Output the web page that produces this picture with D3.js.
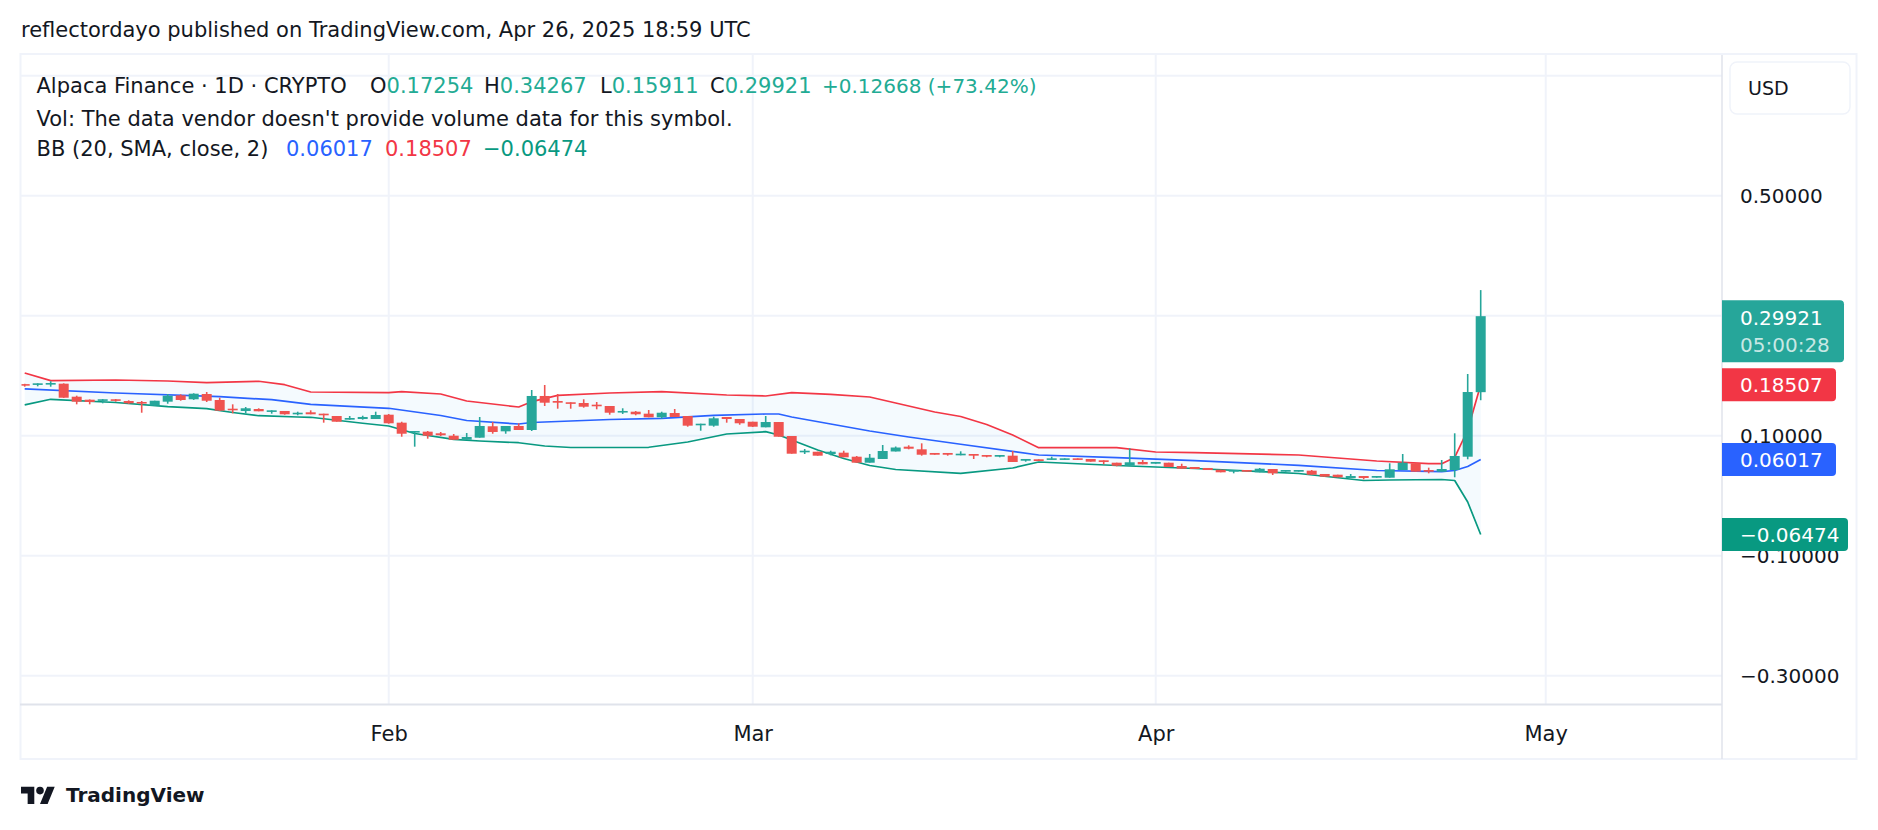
<!DOCTYPE html>
<html>
<head>
<meta charset="utf-8">
<script src="https://cdn.jsdelivr.net/npm/d3@7"></script>
<style>
  body { margin: 0; background: #fff; }
  svg { display: block; font-family: "DejaVu Sans", sans-serif; }
</style>
</head>
<body>
<svg id="chart" width="1878" height="830"></svg>
<script>
// Daily candles, Jan 4 .. Apr 26 2025
const firstDay = new Date(Date.UTC(2025, 0, 4));
const lastDay = new Date(Date.UTC(2025, 3, 26));

const opens = [0.186,0.185,0.1857,0.1867,0.165,0.16,0.1583,0.1607,0.1578,0.1562,
0.15,0.1567,0.1673,0.1607,0.1695,0.1595,0.145,0.1412,0.1445,0.14,
0.1412,0.1362,0.139,0.1367,0.1328,0.1267,0.1278,0.1278,0.135,0.1217,
0.1057,0.1067,0.104,0.1,0.0933,0.0967,0.1157,0.1073,0.1162,0.1095,
0.1662,0.1578,0.1557,0.1545,0.1517,0.1495,0.139,0.14,0.1367,0.1307,
0.1378,0.1328,0.1178,0.1167,0.1312,0.1278,0.1233,0.114,0.1228,0.0995,
0.0723,0.0733,0.0695,0.0717,0.065,0.055,0.0612,0.0737,0.0817,0.0773,
0.0712,0.0712,0.0673,0.0695,0.0678,0.065,0.0667,0.0583,0.0607,0.06,
0.06,0.0623,0.0612,0.059,0.055,0.05,0.0562,0.0533,0.055,0.0495,
0.0478,0.0462,0.0433,0.04,0.0428,0.039,0.0445,0.04,0.04,0.0417,
0.0362,0.035,0.0295,0.0328,0.03,0.03,0.0428,0.054,0.0428,0.04,
0.0428,0.065,0.17254];

const highs = [0.1865,0.1873,0.1907,0.1873,0.1667,0.1605,0.161,0.1612,0.159,0.1578,
0.1583,0.1695,0.169,0.1707,0.1728,0.1633,0.1523,0.1478,0.1457,0.1423,
0.1412,0.14,0.1423,0.1367,0.1328,0.1328,0.1333,0.14,0.1362,0.1233,
0.1078,0.1078,0.1062,0.1028,0.1045,0.1312,0.1228,0.1162,0.1207,0.1762,
0.1845,0.1695,0.1557,0.1607,0.1562,0.1495,0.1457,0.1412,0.1428,0.14,
0.1445,0.1328,0.12,0.1317,0.1312,0.1278,0.1233,0.1328,0.1228,0.0995,
0.0778,0.0733,0.075,0.075,0.0662,0.0695,0.0845,0.082,0.084,0.0873,
0.0712,0.0712,0.074,0.0695,0.0678,0.0678,0.0745,0.0612,0.0607,0.065,
0.0623,0.0623,0.0612,0.059,0.055,0.079,0.0595,0.0562,0.055,0.0533,
0.0478,0.0462,0.0433,0.0428,0.0428,0.0462,0.0445,0.0428,0.0428,0.0428,
0.0362,0.035,0.0362,0.0328,0.0328,0.054,0.0695,0.054,0.0467,0.0595,
0.104,0.2028,0.34267];

const lows = [0.1817,0.1823,0.1817,0.163,0.1523,0.1523,0.154,0.1567,0.153,0.1383,
0.15,0.1533,0.1583,0.1597,0.1562,0.1412,0.1373,0.1373,0.1407,0.1367,
0.135,0.134,0.1357,0.1217,0.1233,0.1267,0.1267,0.1278,0.12,0.0983,
0.0817,0.095,0.0995,0.0933,0.0933,0.0967,0.1033,0.1033,0.1095,0.1078,
0.1495,0.145,0.145,0.1467,0.144,0.135,0.1362,0.134,0.1307,0.1283,
0.1312,0.115,0.1083,0.115,0.1217,0.1183,0.1145,0.114,0.0983,0.07,
0.0695,0.0667,0.0673,0.064,0.055,0.055,0.0612,0.0737,0.0773,0.0667,
0.0683,0.0667,0.0673,0.0612,0.064,0.064,0.0562,0.0567,0.0578,0.06,
0.06,0.06,0.0567,0.0523,0.049,0.05,0.0523,0.0533,0.0478,0.045,
0.0445,0.0428,0.039,0.0373,0.04,0.039,0.0345,0.04,0.04,0.035,
0.0317,0.0307,0.0295,0.0273,0.03,0.03,0.0428,0.04,0.0373,0.04,
0.0307,0.0607,0.15911];

const closes = [0.1834,0.1873,0.1878,0.1633,0.1567,0.1562,0.1607,0.1583,0.154,0.154,
0.1583,0.1667,0.1595,0.17,0.1583,0.1417,0.1428,0.1457,0.1407,0.1423,
0.1357,0.1383,0.1357,0.134,0.1233,0.1295,0.1312,0.1345,0.1207,0.1033,
0.1078,0.1,0.1007,0.0933,0.0978,0.1162,0.1062,0.1162,0.1095,0.1662,
0.155,0.155,0.1533,0.1483,0.1495,0.1383,0.1412,0.1357,0.1307,0.1383,
0.1312,0.1167,0.12,0.129,0.1278,0.1207,0.115,0.1228,0.0983,0.07,
0.075,0.0667,0.0733,0.064,0.055,0.0633,0.0745,0.0803,0.0783,0.0683,
0.0683,0.0683,0.07,0.0667,0.065,0.0678,0.0562,0.0612,0.0578,0.0623,
0.0623,0.06,0.0567,0.0562,0.05,0.0557,0.0523,0.0562,0.0478,0.045,
0.0445,0.0428,0.039,0.0428,0.04,0.045,0.0373,0.0428,0.0428,0.035,
0.0317,0.0307,0.0328,0.0295,0.0328,0.044,0.055,0.04,0.04,0.0445,
0.0662,0.1728,0.29921];

// Bollinger band vertices: [day index, value]
const bbUpper = [[0,0.2045],[2,0.1917],[7,0.1928],[11,0.1912],[14,0.1883],[18,0.1907],[20,0.185],
[22,0.1728],[28,0.1717],[29,0.1733],[32,0.1695],[34,0.1578],[38,0.1478],[39,0.1567],[41,0.1673],
[45,0.1712],[49,0.1733],[54,0.1678],[57,0.1662],[59,0.1717],[62,0.169],[65,0.1645],[67,0.1545],
[70,0.1395],[72,0.132],[74,0.1187],[76,0.1012],[78,0.08],[84,0.08],[87,0.0728],[90,0.0717],
[98,0.0678],[104,0.0578],[108,0.0533],[109,0.0533],[110,0.0637],[111,0.1095],[112,0.18507]];

const bbMiddle = [[0,0.1782],[7,0.1712],[15,0.165],[19,0.16],[22,0.1523],[28,0.1457],[32,0.1337],
[34,0.1253],[38,0.1195],[39,0.122],[45,0.127],[49,0.129],[53,0.134],[57,0.1362],[58,0.1362],
[59,0.1312],[62,0.1195],[65,0.1078],[68,0.0978],[72,0.0857],[78,0.0678],[84,0.0633],[90,0.0583],
[98,0.0507],[104,0.042],[109,0.04],[110,0.042],[111,0.0487],[112,0.06017]];

const bbLower = [[0,0.1515],[2,0.1607],[7,0.1553],[11,0.1483],[14,0.145],[16,0.1387],[18,0.1333],
[21,0.1312],[22,0.1307],[26,0.1208],[28,0.1162],[30,0.1037],[33,0.094],[35,0.0912],[38,0.0883],
[40,0.0828],[42,0.0803],[45,0.0803],[48,0.0807],[51,0.0895],[54,0.1028],[57,0.1067],[58,0.1012],
[59,0.0928],[61,0.0762],[63,0.062],[65,0.0503],[67,0.0437],[72,0.0373],[76,0.0462],[78,0.0562],
[84,0.0503],[90,0.0453],[98,0.037],[103,0.0253],[105,0.0262],[109,0.027],[110,0.0253],
[111,-0.0105],[112,-0.06474]];

const gridTicks = [0.7, 0.5, 0.3, 0.1, -0.1, -0.3];
const priceTicks = [0.5, 0.3, 0.1, -0.1, -0.3];   // 0.7 sits under the USD box
const monthTicks = [new Date(Date.UTC(2025,1,1)), new Date(Date.UTC(2025,2,1)),
                    new Date(Date.UTC(2025,3,1)), new Date(Date.UTC(2025,4,1))];

const publishedText = "reflectordayo published on TradingView.com, Apr 26, 2025 18:59 UTC";
const symbolText = "Alpaca Finance · 1D · CRYPTO";
const changeText = "+0.12668 (+73.42%)";
const volText = "Vol: The data vendor doesn't provide volume data for this symbol.";
const bbText = "BB (20, SMA, close, 2)";
const countdownText = "05:00:28";

// colours
const upColor = "#26A69A", downColor = "#EF5350";
const textColor = "#131722", gridColor = "#F0F3FA", borderColor = "#E0E3EB";
const upperColor = "#F23645", middleColor = "#2962FF", lowerColor = "#089981";

// layout
const plot = {left: 20, top: 55, right: 1722, bottom: 704.5};
const frameRight = 1856, frameBottom = 759;

const svg = d3.select("#chart");

const x = d3.scaleUtc()
    .domain([firstDay, new Date(Date.UTC(2025, 4, 1))])
    .range([24.7, 1545.7]);
const y = d3.scaleLinear()
    .domain([-0.3, 0.5])
    .range([675.7, 195.7]);

const days = d3.utcDay.range(firstDay, d3.utcDay.offset(lastDay, 1));
const candles = days.map((d, i) => ({date: d, o: opens[i], h: highs[i], l: lows[i], c: closes[i]}));
const dayX = k => x(d3.utcDay.offset(firstDay, k));
const fmt = v => d3.format(".5f")(v);

svg.append("clipPath").attr("id", "plot-clip")
  .append("rect")
    .attr("x", plot.left).attr("y", plot.top)
    .attr("width", plot.right - plot.left).attr("height", plot.bottom - plot.top);

// grid
const grid = svg.append("g");
grid.selectAll(".hgrid")
  .data(gridTicks)
  .join("line")
    .attr("x1", plot.left).attr("x2", plot.right)
    .attr("y1", d => y(d)).attr("y2", d => y(d))
    .attr("stroke", gridColor).attr("stroke-width", 2);
grid.selectAll(".vgrid")
  .data(monthTicks)
  .join("line")
    .attr("x1", d => x(d)).attr("x2", d => x(d))
    .attr("y1", plot.top).attr("y2", plot.bottom)
    .attr("stroke", gridColor).attr("stroke-width", 2);

const chart = svg.append("g").attr("clip-path", "url(#plot-clip)");

// band fill + lines
const bandLine = d3.line().x(p => dayX(p[0])).y(p => y(p[1]));
chart.append("path")
  .attr("d", bandLine(bbUpper.concat(bbLower.slice().reverse())) + "Z")
  .attr("fill", "rgba(33,150,243,0.05)");

[[bbUpper, upperColor], [bbMiddle, middleColor], [bbLower, lowerColor]].forEach(([pts, col]) => {
  chart.append("path")
    .attr("d", bandLine(pts))
    .attr("fill", "none")
    .attr("stroke", col)
    .attr("stroke-width", 1.7)
    .attr("stroke-linejoin", "round");
});

// candles
const candle = chart.append("g").selectAll("g")
  .data(candles)
  .join("g")
    .attr("fill", d => d.c >= d.o ? upColor : downColor)
    .attr("stroke", d => d.c >= d.o ? upColor : downColor);

candle.append("line")
  .attr("x1", d => x(d.date)).attr("x2", d => x(d.date))
  .attr("y1", d => y(d.h)).attr("y2", d => y(d.l))
  .attr("stroke-width", 1.6);

candle.append("rect")
  .attr("x", d => x(d.date) - 5)
  .attr("width", 10)
  .attr("y", d => y(Math.max(d.o, d.c)))
  .attr("height", d => Math.max(1.6, Math.abs(y(d.o) - y(d.c))))
  .attr("stroke", "none");

// frame and separators
svg.append("rect")
  .attr("x", plot.left + 0.5).attr("y", plot.top - 1)
  .attr("width", frameRight - plot.left).attr("height", frameBottom - plot.top + 1)
  .attr("fill", "none").attr("stroke", gridColor).attr("stroke-width", 2);
svg.append("line")
  .attr("x1", plot.left).attr("x2", plot.right)
  .attr("y1", plot.bottom).attr("y2", plot.bottom)
  .attr("stroke", borderColor).attr("stroke-width", 2);
svg.append("line")
  .attr("x1", plot.right).attr("x2", plot.right)
  .attr("y1", plot.top).attr("y2", frameBottom)
  .attr("stroke", borderColor).attr("stroke-width", 1.5);

// price axis
const yAxis = svg.append("g")
  .attr("transform", `translate(${plot.right},0)`)
  .call(d3.axisRight(y).tickValues(priceTicks).tickSize(0).tickPadding(18).tickFormat(fmt));
yAxis.select(".domain").remove();
yAxis.selectAll("text")
  .attr("fill", textColor)
  .style("font-size", "20px")
  .style("font-family", "'DejaVu Sans', sans-serif");

// time axis
const xAxis = svg.append("g")
  .attr("transform", `translate(0,${plot.bottom})`)
  .call(d3.axisBottom(x).tickValues(monthTicks).tickSize(0).tickPadding(22).tickFormat(d3.utcFormat("%b")));
xAxis.select(".domain").remove();
xAxis.selectAll("text")
  .attr("fill", textColor)
  .style("font-size", "21px")
  .style("font-family", "'DejaVu Sans', sans-serif");

// price labels on the axis
const last = candles[candles.length - 1];
function priceLabel(value, color, width, height) {
  const g = svg.append("g").attr("transform", `translate(${plot.right},${y(value)})`);
  g.append("path")
    .attr("d", `M0,${-height / 2}H${width - 4}q4,0 4,4V${height / 2 - 4}q0,4 -4,4H0Z`)
    .attr("fill", color);
  return g;
}
const closeLabel = priceLabel(last.c, upColor, 122, 62);
closeLabel.select("path").attr("transform", "translate(0,15)");
closeLabel.append("text")
  .attr("x", 18).attr("y", 9).attr("fill", "#fff")
  .style("font-size", "20px").text(fmt(last.c));
closeLabel.append("text")
  .attr("x", 18).attr("y", 36).attr("fill", "rgba(255,255,255,0.75)")
  .style("font-size", "20px").text(countdownText);

[[bbUpper, upperColor, 114], [bbMiddle, middleColor, 114], [bbLower, lowerColor, 126]].forEach(([pts, col, w]) => {
  const v = pts[pts.length - 1][1];
  const g = priceLabel(v, col, w, 33);
  g.append("text")
    .attr("x", 18).attr("y", 7.5).attr("fill", "#fff")
    .style("font-size", "20px").text(fmt(v));
});

// currency box
svg.append("rect")
  .attr("x", 1730).attr("y", 62).attr("width", 120).attr("height", 52).attr("rx", 7)
  .attr("fill", "#fff").attr("stroke", gridColor).attr("stroke-width", 1.5);
svg.append("text")
  .attr("x", 1748).attr("y", 95).attr("fill", textColor)
  .style("font-size", "19px").text("USD");

// header + legend
svg.append("text")
  .attr("x", 21).attr("y", 37).attr("fill", textColor)
  .style("font-size", "21px").text(publishedText);

const legend = svg.append("g").style("font-size", "21px");
legend.append("text").attr("x", 36.5).attr("y", 92.5).attr("fill", textColor).text(symbolText);
[["O", last.o, 370], ["H", last.h, 484], ["L", last.l, 600], ["C", last.c, 710]].forEach(([k, v, px]) => {
  const t = legend.append("text").attr("x", px).attr("y", 92.5);
  t.append("tspan").attr("fill", textColor).text(k);
  t.append("tspan").attr("fill", "#22AB94").text(fmt(v));
});
legend.append("text").attr("x", 822).attr("y", 92.5).attr("fill", "#22AB94")
  .style("font-size", "20px").text(changeText);

legend.append("text").attr("x", 36.5).attr("y", 126).attr("fill", textColor).text(volText);

legend.append("text").attr("x", 36.5).attr("y", 156).attr("fill", textColor).text(bbText);
[[bbMiddle, middleColor, 286], [bbUpper, upperColor, 385], [bbLower, lowerColor, 483]].forEach(([pts, col, px]) => {
  legend.append("text").attr("x", px).attr("y", 156).attr("fill", col)
    .text(fmt(pts[pts.length - 1][1]));
});

// TradingView logo
const logo = svg.append("g").attr("transform", "translate(21,783) scale(0.95)").attr("fill", textColor);
logo.append("path").attr("d", "M14 22H7V11H0V4h14v18zM28 22h-8l7.5-18h8L28 22z");
logo.append("circle").attr("cx", 20).attr("cy", 8).attr("r", 4);
svg.append("text")
  .attr("x", 66).attr("y", 802).attr("fill", textColor)
  .style("font-size", "20px").style("font-weight", "bold").text("TradingView");
</script>
</body>
</html>
